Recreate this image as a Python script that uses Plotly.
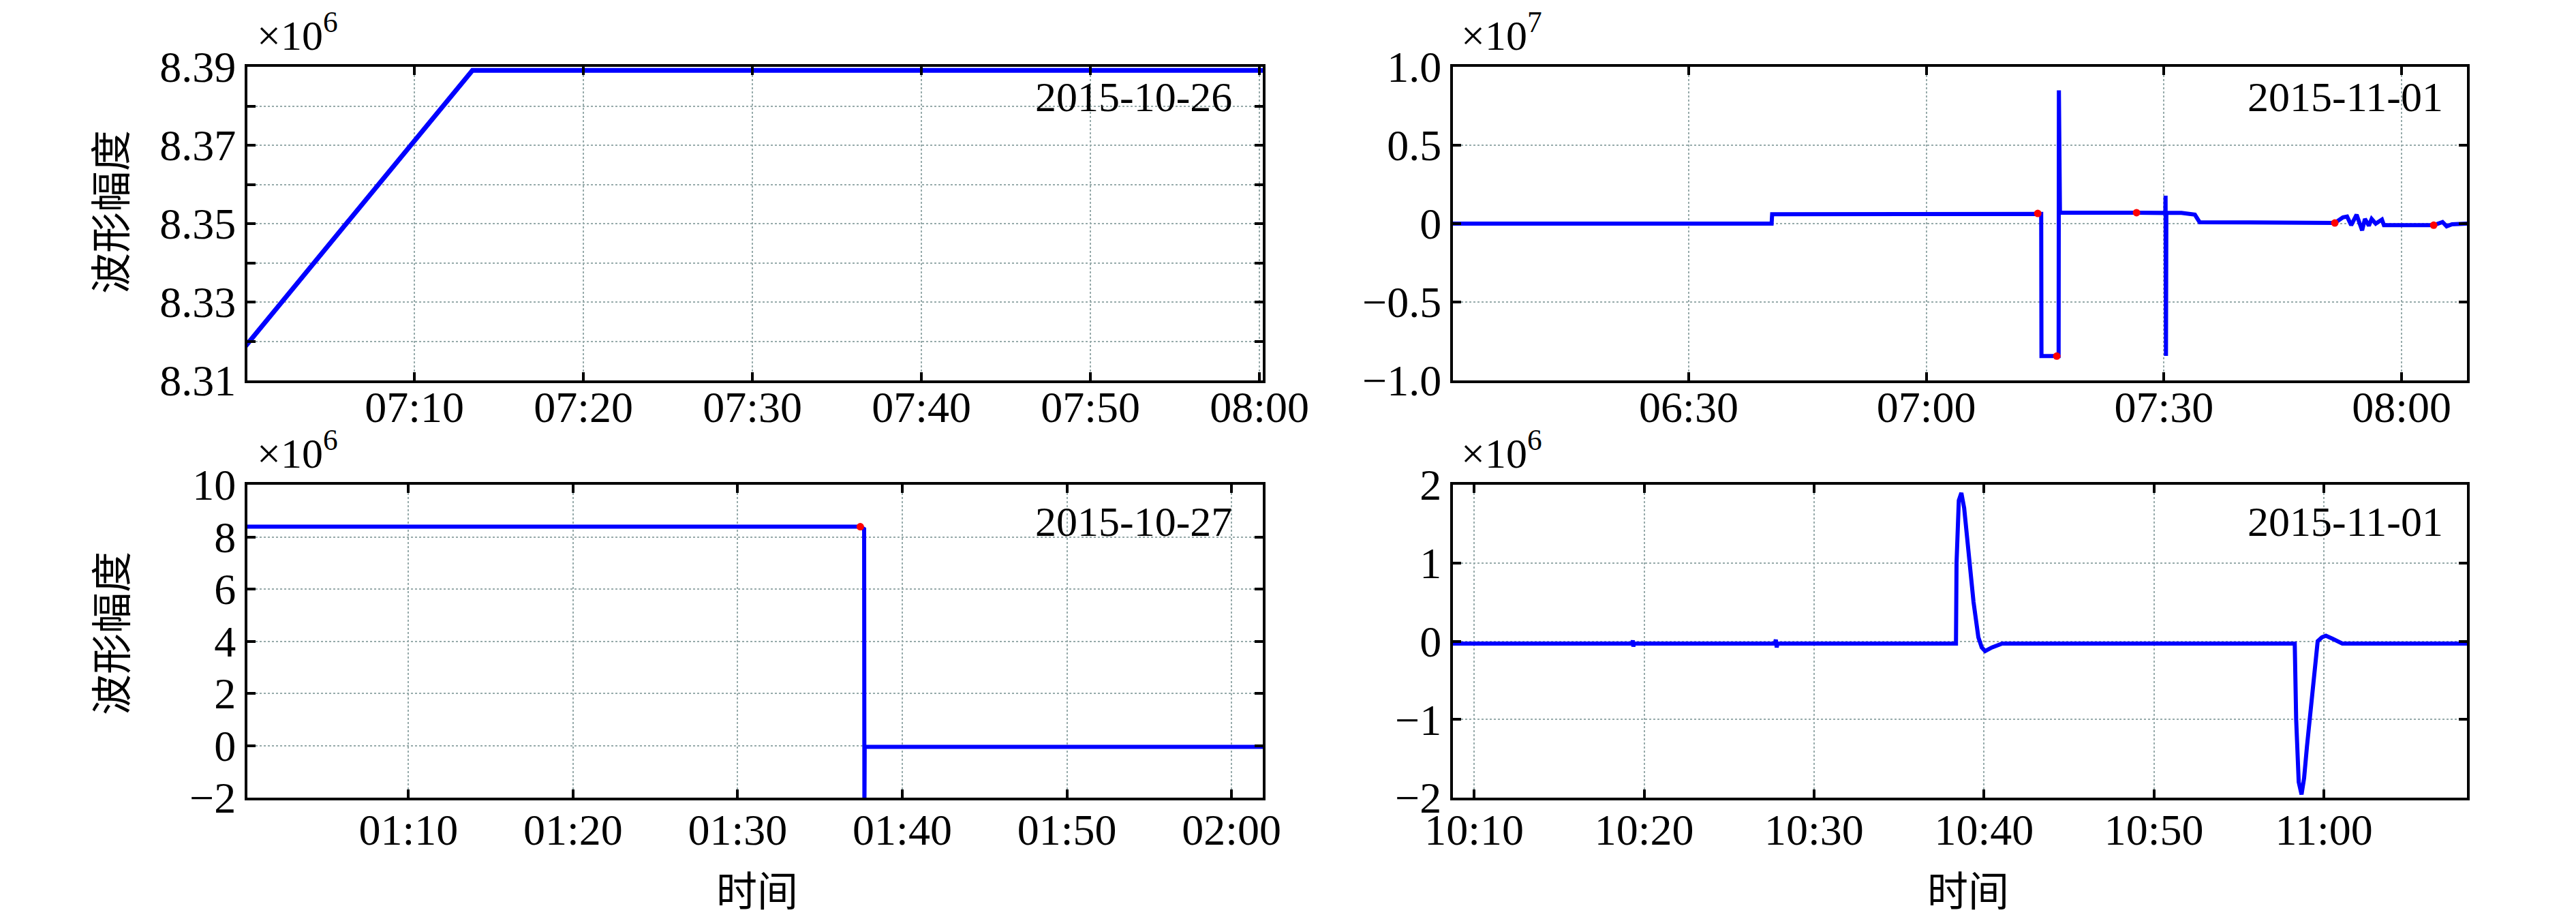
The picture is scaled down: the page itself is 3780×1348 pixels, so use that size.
import plotly.graph_objects as go
from plotly.subplots import make_subplots

# 2015-10-26, amplitude in units of 1e6
t_1026 = ["2015-10-26 07:00:00", "2015-10-26 07:05:00", "2015-10-26 07:10:00",
          "2015-10-26 07:13:26", "2015-10-26 08:00:12"]
amp_1026 = [8.3187, 8.3450, 8.3712, 8.3891, 8.3891]

# 2015-11-01 morning, amplitude in units of 1e7
t_1101a = ["06:00:00", "06:40:28", "06:40:32", "07:00:00", "07:14:04", "07:14:30",
           "07:14:32", "07:16:28", "07:16:42", "07:16:44", "07:16:52", "07:26:32",
           "07:30:10", "07:30:12", "07:30:15", "07:30:18", "07:32:12", "07:33:54",
           "07:34:30", "07:51:34", "07:52:36", "07:53:07", "07:53:38", "07:54:19",
           "07:55:01", "07:55:22", "07:55:52", "07:56:13", "07:56:44", "07:57:31",
           "07:57:46", "08:04:03", "08:05:10", "08:05:41", "08:06:22", "08:08:16"]
amp_1101a = [0.0, 0.0, 0.060, 0.062, 0.065, 0.062,
             -0.845, -0.845, -0.845, 0.85, 0.07, 0.07,
             0.068, 0.178, -0.843, 0.068, 0.068, 0.057,
             0.009, 0.004, 0.040, 0.045, -0.010, 0.057,
             -0.043, 0.030, -0.013, 0.030, 0.0, 0.026,
             -0.010, -0.010, 0.010, -0.017, -0.004, 0.0]
dot_t_1101a = ["07:14:04", "07:16:28", "07:26:32", "07:51:34", "08:04:03"]
dot_amp_1101a = [0.065, -0.845, 0.07, 0.004, -0.010]

# 2015-10-27, amplitude in units of 1e6
t_1027 = ["01:00:00", "01:37:27", "01:37:41", "01:37:42", "01:37:43", "02:02:00"]
amp_1027 = [8.39, 8.39, 8.30, -2.6, -0.05, -0.05]
dot_t_1027 = ["01:37:27"]
dot_amp_1027 = [8.39]

# 2015-11-01 late morning, amplitude in units of 1e6
t_1101b = ["10:08:45", "10:19:18", "10:19:20", "10:19:22", "10:19:24",
           "10:27:42", "10:27:45", "10:27:48", "10:27:51",
           "10:38:21", "10:38:23", "10:38:31", "10:38:40", "10:38:50", "10:38:59",
           "10:39:09", "10:39:23", "10:39:40", "10:39:52", "10:40:04", "10:40:28",
           "10:41:04", "10:58:17", "10:58:22", "10:58:31", "10:58:41", "10:58:50",
           "10:59:00", "10:59:09", "10:59:24", "10:59:38", "10:59:53", "11:00:07",
           "11:00:31", "11:01:05", "11:08:25"]
amp_1101b = [-0.03, -0.03, 0.01, -0.07, -0.03,
             -0.03, 0.02, -0.08, -0.03,
             -0.03, 1.0, 1.8, 1.895, 1.70, 1.35,
             1.0, 0.5, 0.05, -0.08, -0.126, -0.08,
             -0.03, -0.03, -1.0, -1.8, -1.96, -1.75,
             -1.35, -1.0, -0.45, 0.0, 0.05, 0.07,
             0.03, -0.03, -0.03]

ytick_1026 = [8.31, 8.33, 8.35, 8.37, 8.39]
ytext_1026 = ["8.31", "8.33", "8.35", "8.37", "8.39"]
ytick_1101a = [-1.0, -0.5, 0, 0.5, 1.0]
ytext_1101a = ["\u22121.0", "\u22120.5", "0", "0.5", "1.0"]
ytick_1027 = [-2, 0, 2, 4, 6, 8, 10]
ytext_1027 = ["\u22122", "0", "2", "4", "6", "8", "10"]
ytick_1101b = [-2, -1, 0, 1, 2]
ytext_1101b = ["\u22122", "\u22121", "0", "1", "2"]

FONT = "Liberation Serif, Times New Roman, Noto Sans CJK SC, serif"
BLUE = "#0000ff"
GRID = "rgb(150,170,170)"
W, H = 3780, 1348

fig = make_subplots(rows=2, cols=2)

fig.add_trace(go.Scatter(x=t_1026, y=amp_1026, mode="lines",
                         line=dict(color=BLUE, width=7)), row=1, col=1)
fig.add_trace(go.Scatter(x=["2015-11-01 " + t for t in t_1101a], y=amp_1101a, mode="lines",
                         line=dict(color=BLUE, width=6)), row=1, col=2)
fig.add_trace(go.Scatter(x=["2015-11-01 " + t for t in dot_t_1101a], y=dot_amp_1101a,
                         mode="markers", marker=dict(color="red", size=11)), row=1, col=2)
fig.add_trace(go.Scatter(x=["2015-10-27 " + t for t in t_1027], y=amp_1027, mode="lines",
                         line=dict(color=BLUE, width=6)), row=2, col=1)
fig.add_trace(go.Scatter(x=["2015-10-27 " + t for t in dot_t_1027], y=dot_amp_1027,
                         mode="markers", marker=dict(color="red", size=11)), row=2, col=1)
fig.add_trace(go.Scatter(x=["2015-11-01 " + t for t in t_1101b], y=amp_1101b, mode="lines",
                         line=dict(color=BLUE, width=6)), row=2, col=2)

# plot area positions (pixels)
left_dom = [355 / W, 1845 / W]
right_dom = [2124 / W, 3612 / W]
top_dom = [1 - 550 / H, 1 - 90 / H]
bot_dom = [1 - 1162 / H, 1 - 703 / H]

axis_style = dict(showline=True, linecolor="black", linewidth=4, mirror="allticks",
                  ticks="inside", ticklen=12, tickwidth=4, tickcolor="black",
                  showgrid=True, gridcolor=GRID, gridwidth=2, griddash="dot",
                  zeroline=False, automargin=False,
                  tickfont=dict(family=FONT, size=64, color="black"))

fig.update_xaxes(axis_style)
fig.update_yaxes(axis_style)

fig.update_xaxes(row=1, col=1, domain=left_dom, tickformat="%H:%M", dtick=600000,
                 tick0="2015-10-26 07:00:00", ticklabelstandoff=-20,
                 range=["2015-10-26 07:00:07", "2015-10-26 08:00:12"])
fig.update_xaxes(row=1, col=2, domain=right_dom, tickformat="%H:%M", dtick=1800000,
                 tick0="2015-11-01 06:00:00", ticklabelstandoff=-20,
                 range=["2015-11-01 06:00:14", "2015-11-01 08:08:15"])
fig.update_xaxes(row=2, col=1, domain=left_dom, tickformat="%H:%M", dtick=600000,
                 tick0="2015-10-27 01:00:00", ticklabelstandoff=-12,
                 range=["2015-10-27 01:00:13", "2015-10-27 02:01:54"])
fig.update_xaxes(row=2, col=2, domain=right_dom, tickformat="%H:%M", dtick=600000,
                 tick0="2015-11-01 10:00:00", ticklabelstandoff=-12,
                 range=["2015-11-01 10:08:45", "2015-11-01 11:08:25"])

fig.update_yaxes(row=1, col=1, domain=top_dom, range=[8.31, 8.39],
                 tickvals=ytick_1026, ticktext=ytext_1026,
                 minor=dict(dtick=0.01, tick0=8.31, ticks="inside", ticklen=12,
                            tickwidth=4, tickcolor="black", showgrid=True,
                            gridcolor=GRID, gridwidth=2, griddash="dot"))
fig.update_yaxes(row=1, col=2, domain=top_dom, range=[-1.0, 1.0],
                 tickvals=ytick_1101a, ticktext=ytext_1101a)
fig.update_yaxes(row=2, col=1, domain=bot_dom, range=[-2, 10],
                 tickvals=ytick_1027, ticktext=ytext_1027)
fig.update_yaxes(row=2, col=2, domain=bot_dom, range=[-2, 2],
                 tickvals=ytick_1101b, ticktext=ytext_1101b)

ann_font = dict(family=FONT, size=62, color="black")
cjk_font = dict(family="Noto Sans CJK SC, sans-serif", size=60, color="black")
annotations = []
for text, x, y in [("2015-10-26", 1802, 134), ("2015-11-01", 3579, 134),
                   ("2015-10-27", 1802, 757), ("2015-11-01", 3579, 757)]:
    annotations.append(dict(text=text, x=x / W, y=1 - y / H, xref="paper", yref="paper",
                            xanchor="right", yanchor="middle", showarrow=False, font=ann_font))
for text, x, y in [("×10<sup>6</sup>", 367, 80), ("×10<sup>7</sup>", 2134, 80),
                   ("×10<sup>6</sup>", 367, 693), ("×10<sup>6</sup>", 2134, 693)]:
    annotations.append(dict(text=text, x=x / W, y=1 - y / H, xref="paper", yref="paper",
                            xanchor="left", yanchor="bottom", showarrow=False, font=ann_font))
for y in [303, 921]:
    annotations.append(dict(text="波形幅度", x=151 / W, y=1 - y / H, xref="paper", yref="paper",
                            xanchor="center", yanchor="middle", textangle=-90,
                            showarrow=False, font=cjk_font))
for x in [1103, 2880]:
    annotations.append(dict(text="时间", x=x / W, y=1 - 1294 / H, xref="paper", yref="paper",
                            xanchor="center", yanchor="middle", showarrow=False, font=cjk_font))

fig.update_layout(width=W, height=H, margin=dict(l=0, r=0, t=0, b=0),
                  paper_bgcolor="white", plot_bgcolor="white", showlegend=False,
                  annotations=annotations)

fig.write_html("out.html")
